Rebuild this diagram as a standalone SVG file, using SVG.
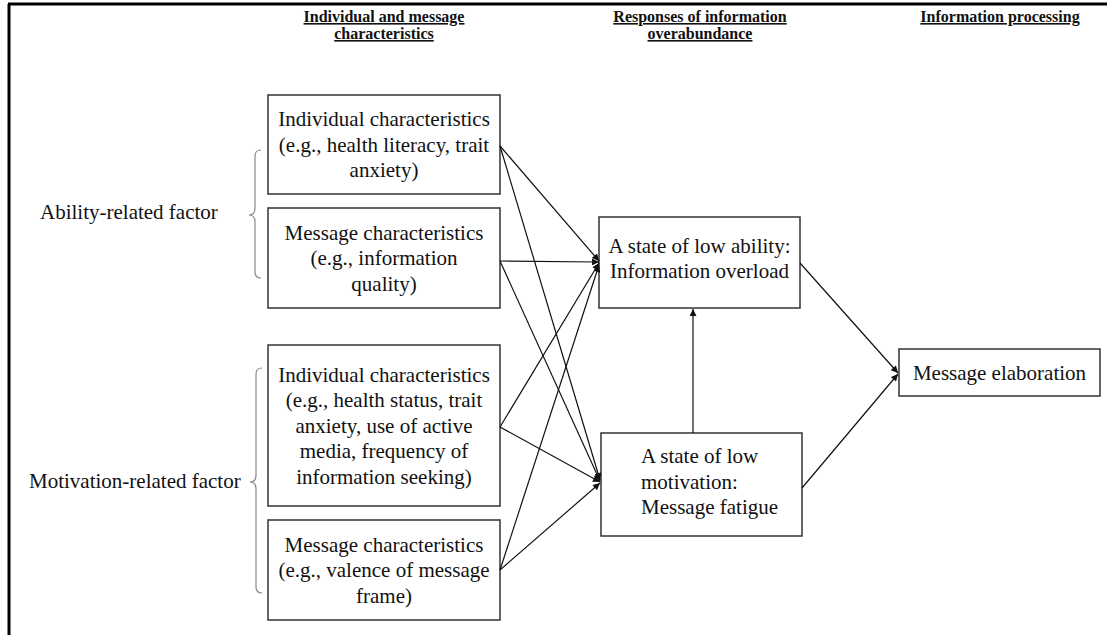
<svg xmlns="http://www.w3.org/2000/svg" width="1107" height="635" viewBox="0 0 1107 635">
<style>
.box{fill:#fff;stroke:#333;stroke-width:1.5}
.t{font-family:"Liberation Serif","Times New Roman",serif;font-size:21px;fill:#111}
.c{text-anchor:middle}
.h{font-family:"Liberation Serif","Times New Roman",serif;font-size:16px;font-weight:bold;fill:#111;text-anchor:middle;text-decoration:underline}
.e{fill:none;stroke:#111;stroke-width:1.2;marker-end:url(#ah)}
.br{fill:none;stroke:#888;stroke-width:1.2}
</style>
<defs>
<marker id="ah" viewBox="0 0 10 10" refX="10" refY="5" markerWidth="8" markerHeight="7" markerUnits="userSpaceOnUse" orient="auto">
<path d="M0,0 L10,5 L0,10 Z" fill="#111"/>
</marker>
</defs>
<rect width="1107" height="635" fill="#fff"/>
<g id="frame">
<line x1="8" y1="4" x2="1107" y2="4" stroke="#000" stroke-width="3"/>
<line x1="9" y1="4" x2="9" y2="635" stroke="#000" stroke-width="3"/>
</g>
<g id="headers">
<text class="h" x="384" y="22">Individual and message</text>
<text class="h" x="384" y="39">characteristics</text>
<text class="h" x="700" y="22">Responses of information</text>
<text class="h" x="700" y="39">overabundance</text>
<text class="h" x="1000" y="22">Information processing</text>
</g>
<g id="ability-factor">
<text class="t" x="40" y="219">Ability-related factor</text>
<path class="br" d="M261,150 Q255,150 255,156 L255,208 Q255,215 249,215 Q255,215 255,222 L255,272 Q255,278 261,278"/>
</g>
<g id="motivation-factor">
<text class="t" x="29" y="488">Motivation-related factor</text>
<path class="br" d="M262,368 Q256,368 256,374 L256,475 Q256,482 250,482 Q256,482 256,489 L256,587 Q256,593 262,593"/>
</g>
<g id="b1">
<rect class="box" x="268" y="95" width="232" height="99"/>
<text class="t c" x="384" y="126">Individual characteristics</text>
<text class="t c" x="384" y="151.5">(e.g., health literacy, trait</text>
<text class="t c" x="384" y="177">anxiety)</text>
</g>
<g id="b2">
<rect class="box" x="268" y="208" width="232" height="100"/>
<text class="t c" x="384" y="239.5">Message characteristics</text>
<text class="t c" x="384" y="265">(e.g., information</text>
<text class="t c" x="384" y="290.5">quality)</text>
</g>
<g id="b3">
<rect class="box" x="268" y="345" width="232" height="161"/>
<text class="t c" x="384" y="381.5">Individual characteristics</text>
<text class="t c" x="384" y="407">(e.g., health status, trait</text>
<text class="t c" x="384" y="432.5">anxiety, use of active</text>
<text class="t c" x="384" y="458">media, frequency of</text>
<text class="t c" x="384" y="483.5">information seeking)</text>
</g>
<g id="b4">
<rect class="box" x="268" y="520" width="232" height="100"/>
<text class="t c" x="384" y="551.5">Message characteristics</text>
<text class="t c" x="384" y="577">(e.g., valence of message</text>
<text class="t c" x="384" y="602.5">frame)</text>
</g>
<g id="n1">
<rect class="box" x="599" y="217" width="201" height="91"/>
<text class="t c" x="699.5" y="253">A state of low ability:</text>
<text class="t c" x="699.5" y="278">Information overload</text>
</g>
<g id="n2">
<rect class="box" x="601" y="433" width="201" height="103"/>
<text class="t" x="641" y="463">A state of low</text>
<text class="t" x="641" y="488.5">motivation:</text>
<text class="t" x="641" y="514">Message fatigue</text>
</g>
<g id="me">
<rect class="box" x="899" y="349" width="201" height="47"/>
<text class="t c" x="999.5" y="380">Message elaboration</text>
</g>
<g id="connectors">
<line class="e" x1="500" y1="146" x2="599" y2="261"/>
<line class="e" x1="500" y1="146" x2="600" y2="480"/>
<line class="e" x1="500" y1="261" x2="599" y2="262"/>
<line class="e" x1="500" y1="261" x2="600" y2="481"/>
<line class="e" x1="500" y1="427" x2="599" y2="263"/>
<line class="e" x1="500" y1="427" x2="600" y2="482"/>
<line class="e" x1="500" y1="570" x2="599" y2="265"/>
<line class="e" x1="500" y1="570" x2="600" y2="483"/>
<line class="e" x1="693" y1="433" x2="693" y2="309"/>
<line class="e" x1="800" y1="263" x2="898" y2="373"/>
<line class="e" x1="802" y1="488" x2="898" y2="374"/>
</g>
</svg>
